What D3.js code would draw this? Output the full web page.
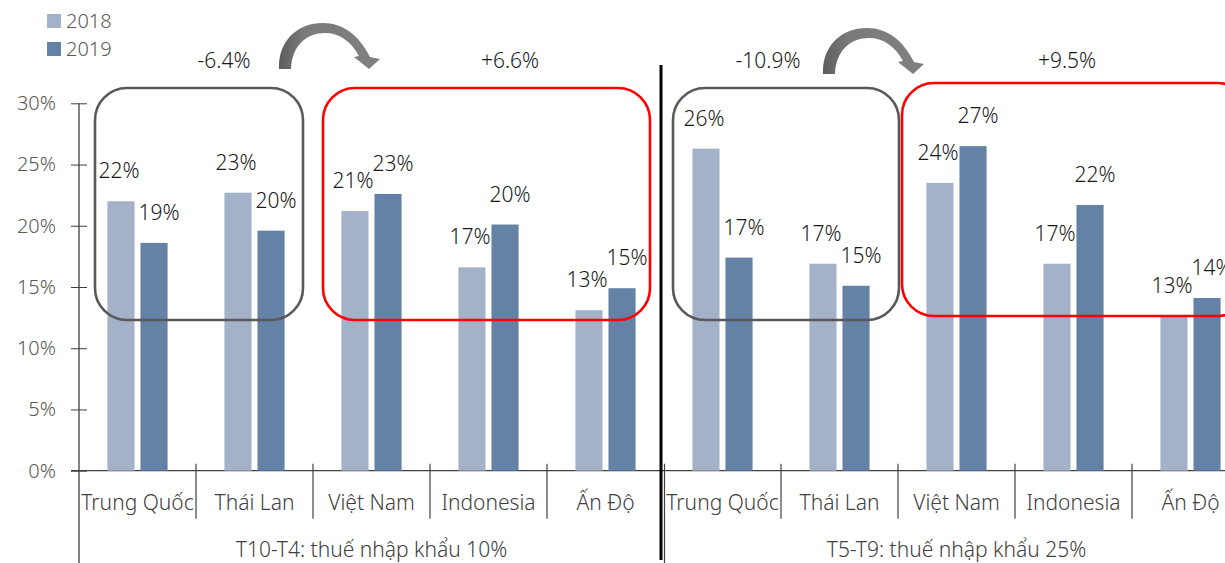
<!DOCTYPE html>
<html>
<head>
<meta charset="utf-8">
<script src="https://cdn.jsdelivr.net/npm/d3@7"></script>
<style>
  body { margin: 0; background: #fff; }
  svg { display: block; font-family: "Noto Sans", sans-serif; }
</style>
</head>
<body>
<svg width="1225" height="563"></svg>
<script>
// data
var countries = ['Trung Quốc', 'Thái Lan', 'Việt Nam', 'Indonesia', 'Ấn Độ'];
var periods = ['T10-T4: thuế nhập khẩu 10%', 'T5-T9: thuế nhập khẩu 25%'];
var years = ['2018', '2019'];
var share2018 = [22.0, 22.7, 21.2, 16.6, 13.1, 26.3, 16.9, 23.5, 16.9, 12.6];
var share2019 = [18.6, 19.6, 22.6, 20.1, 14.9, 17.4, 15.1, 26.5, 21.7, 14.1];
var labels2018 = ['22%', '23%', '21%', '17%', '13%', '26%', '17%', '24%', '17%', '13%'];
var labels2019 = ['19%', '20%', '23%', '20%', '15%', '17%', '15%', '27%', '22%', '14%'];
var changes = ['-6.4%', '+6.6%', '-10.9%', '+9.5%'];
var yTicks = [0, 5, 10, 15, 20, 25, 30];

var colors = { '2018': '#a3b1c9', '2019': '#6481a6' };

var svg = d3.select('svg');

var cells = [];
periods.forEach(function(p, pi) {
    countries.forEach(function(c, ci) {
        var i = pi * countries.length + ci;
        cells.push({ i: i, country: c, period: pi,
            v2018: share2018[i], v2019: share2019[i],
            l2018: labels2018[i], l2019: labels2019[i] });
    });
});

var x = d3.scaleBand().domain(d3.range(cells.length)).range([79, 79 + 117 * 10]);
var xs = d3.scaleBand().domain(years).range([0, x.bandwidth()])
    .paddingInner(0.18).paddingOuter(0.86);
var y = d3.scaleLinear().domain([0, 30]).range([470.7, 103.3]);
var y0 = y(0);

// y axis
var yAxis = svg.append('g')
    .attr('transform', 'translate(79,0)')
    .call(d3.axisLeft(y).tickValues(yTicks).tickSize(8).tickSizeOuter(0).tickPadding(15)
        .tickFormat(function(d) { return d + '%'; }));
yAxis.select('.domain').remove();
yAxis.selectAll('.tick line').attr('x1', 8).attr('stroke', '#404040');
yAxis.selectAll('.tick text').attr('fill', '#595959').style('font-size', '20px')
    .style('font-family', '"Noto Sans", sans-serif').style('font-weight', 300);
svg.append('line').attr('x1', 79).attr('x2', 79).attr('y1', y(30)).attr('y2', 563)
    .attr('stroke', '#404040').attr('stroke-width', 1.3);

// x axis line
svg.append('line').attr('x1', 71).attr('x2', 1225).attr('y1', y0).attr('y2', y0)
    .attr('stroke', '#404040').attr('stroke-width', 1.3);

// category separators
svg.append('g').selectAll('line')
    .data(cells.filter(function(d) { return d.i % 5 !== 0; }))
    .join('line')
    .attr('x1', function(d) { return x(d.i); })
    .attr('x2', function(d) { return x(d.i); })
    .attr('y1', y0 - 7).attr('y2', y0 + 48)
    .attr('stroke', '#404040').attr('stroke-width', 1.2);
svg.append('line').attr('x1', x(5) + 0.5).attr('x2', x(5) + 0.5).attr('y1', y0 - 7).attr('y2', 563)
    .attr('stroke', '#404040').attr('stroke-width', 1.2);

// bars
var groups = svg.append('g').selectAll('g').data(cells).join('g')
    .attr('transform', function(d) { return 'translate(' + x(d.i) + ',0)'; });
years.forEach(function(yr) {
    groups.append('rect')
        .attr('x', xs(yr))
        .attr('width', xs.bandwidth())
        .attr('y', function(d) { return y(d['v' + yr]); })
        .attr('height', function(d) { return y0 - y(d['v' + yr]); })
        .attr('fill', colors[yr]);
});
groups.append('text')
    .attr('x', xs('2018') + xs.bandwidth() / 2 - 2)
    .attr('y', function(d) { return y(d.v2018) - 23; })
    .attr('text-anchor', 'middle').attr('fill', '#1a1a1a').style('font-size', '21px')
    .style('font-weight', 300)
    .text(function(d) { return d.l2018; });
groups.append('text')
    .attr('x', xs('2019') + xs.bandwidth() / 2 + 5)
    .attr('y', function(d) { return y(d.v2019) - 23; })
    .attr('text-anchor', 'middle').attr('fill', '#1a1a1a').style('font-size', '21px')
    .style('font-weight', 300)
    .text(function(d) { return d.l2019; });

// category labels
groups.append('text')
    .attr('x', x.bandwidth() / 2).attr('y', y0 + 39)
    .attr('text-anchor', 'middle').attr('fill', '#404040')
    .style('font-size', '21px').style('font-weight', 300)
    .text(function(d) { return d.country; });

// period labels
svg.append('g').selectAll('text').data(periods).join('text')
    .attr('x', function(d, i) { return x(i * 5) + x.bandwidth() * 2.5; })
    .attr('y', 557)
    .attr('text-anchor', 'middle').attr('fill', '#404040')
    .style('font-size', '21px').style('font-weight', 300)
    .text(function(d) { return d; });

// thick divider
svg.append('line').attr('x1', 661).attr('x2', 661).attr('y1', 65).attr('y2', 560)
    .attr('stroke', '#000').attr('stroke-width', 3);

// highlight boxes
var boxes = [
    { from: 0, to: 1, top: 88, bottom: 320, color: '#595959', l: 16, r: -10 },
    { from: 2, to: 4, top: 88, bottom: 320, color: '#ff0000', l: 10, r: -14 },
    { from: 5, to: 6, top: 88, bottom: 320, color: '#595959', l: 9, r: 1 },
    { from: 7, to: 9, top: 83, bottom: 316, color: '#ff0000', l: 4, r: 0 }
];
svg.append('g').selectAll('rect').data(boxes).join('rect')
    .attr('x', function(d) { return x(d.from) + d.l; })
    .attr('width', function(d) { return x(d.to) + x.bandwidth() + d.r - x(d.from) - d.l; })
    .attr('y', function(d) { return d.top; })
    .attr('height', function(d) { return d.bottom - d.top; })
    .attr('rx', 32).attr('ry', 32)
    .attr('fill', 'none').attr('stroke', function(d) { return d.color; })
    .attr('stroke-width', 2.6);

// change annotations
svg.append('g').selectAll('text').data(changes).join('text')
    .attr('x', function(d, i) { return [224, 510, 768, 1067][i]; })
    .attr('y', 68)
    .attr('text-anchor', 'middle').attr('fill', '#1a1a1a').style('font-size', '21px')
    .style('font-weight', 300)
    .text(function(d) { return d; });

// curved arrows
var defs = svg.append('defs');
var grad = defs.append('linearGradient').attr('id', 'arrowGrad')
    .attr('x1', '0%').attr('x2', '100%');
grad.append('stop').attr('offset', '0%').attr('stop-color', '#5e5e5e');
grad.append('stop').attr('offset', '25%').attr('stop-color', '#7a7a7a');
grad.append('stop').attr('offset', '100%').attr('stop-color', '#808080');
var arrowPath = 'M0,0 C-1,-28 18,-46 44,-46 C64,-46 80,-34 91,-12 L101,-10 L90,0 L75,-12 L80,-13 ' +
    'C72,-28 60,-36 46,-36 C28,-36 13,-24 12,0 Z';
svg.append('g').selectAll('path').data([{ x: 279, y: 69 }, { x: 823, y: 74 }]).join('path')
    .attr('transform', function(d) { return 'translate(' + d.x + ',' + d.y + ')'; })
    .attr('d', arrowPath)
    .attr('fill', 'url(#arrowGrad)');

// legend
var legend = svg.append('g').selectAll('g').data(years).join('g')
    .attr('transform', function(d, i) { return 'translate(47,' + (14 + i * 28) + ')'; });
legend.append('rect').attr('width', 14).attr('height', 14)
    .attr('fill', function(d) { return colors[d]; });
legend.append('text').attr('x', 19).attr('y', 14)
    .attr('fill', '#595959').style('font-size', '20px').style('font-weight', 300)
    .text(function(d) { return d; });
</script>
</body>
</html>
